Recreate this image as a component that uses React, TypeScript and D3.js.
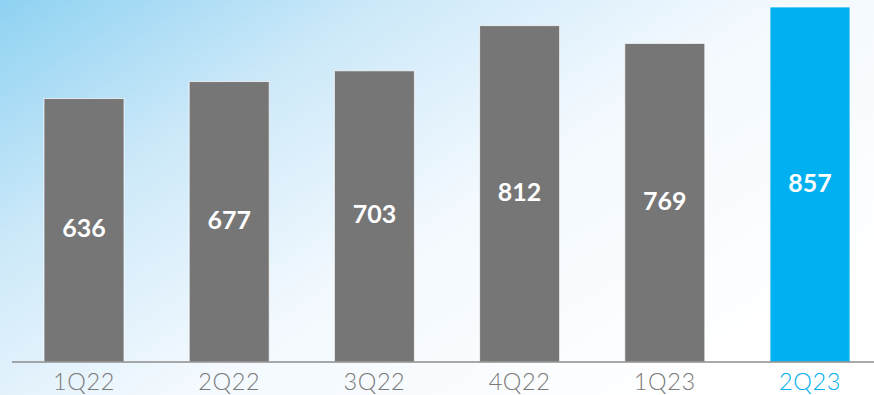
import React from "react";
import * as d3 from "d3";

const categories = ["1Q22", "2Q22", "3Q22", "4Q22", "1Q23", "2Q23"];
const values = [636, 677, 703, 812, 769, 857];
const highlight = [false, false, false, false, false, true];

const W = 874;
const H = 395;
const baseY = 362;
const barW = 80;

export default function App() {
  const x = d3.scalePoint<string>().domain(categories).range([84, 810]);
  const y = d3.scaleLinear().domain([0, 857]).range([baseY, 7]);
  const grey = "#767676";
  const blue = "#00b0f0";

  return (
    <div style={{ position: "fixed", left: 0, top: 0 }}>
      <svg width={W} height={H} style={{ display: "block" }}>
        <defs>
          <linearGradient id="bg" x1="0" y1="0" x2="1" y2="0.7">
            <stop offset="0" stopColor="#8fd2f2" />
            <stop offset="0.3" stopColor="#cde9f9" />
            <stop offset="0.6" stopColor="#f3f9fe" />
            <stop offset="1" stopColor="#ffffff" />
          </linearGradient>
        </defs>
        <rect x={0} y={0} width={W} height={H} fill="url(#bg)" />
        {categories.map((c, i) => {
          const cx = x(c)!;
          const top = y(values[i]);
          return (
            <g key={c}>
              <rect
                x={cx - barW / 2}
                y={top}
                width={barW}
                height={baseY - top}
                fill={highlight[i] ? blue : grey}
                stroke="#ffffff"
                strokeOpacity={0.7}
                strokeWidth={1}
              />
              <text
                x={cx}
                y={(top + baseY) / 2 - 3}
                textAnchor="middle"
                dominantBaseline="central"
                fill="#ffffff"
                fontFamily="Lato, 'Open Sans', sans-serif"
                fontWeight={700}
                fontSize={25}
              >
                {values[i]}
              </text>
              <text
                x={cx}
                y={390}
                textAnchor="middle"
                fill={highlight[i] ? blue : "#7a7a7a"}
                fontFamily="Lato, 'Open Sans', sans-serif"
                fontWeight={300}
                fontSize={23.5}
                letterSpacing={0.6}
              >
                {c}
              </text>
            </g>
          );
        })}
        <line x1={12} x2={W} y1={baseY} y2={baseY} stroke="#8c8c8c" strokeWidth={1.5} />
      </svg>
    </div>
  );
}
